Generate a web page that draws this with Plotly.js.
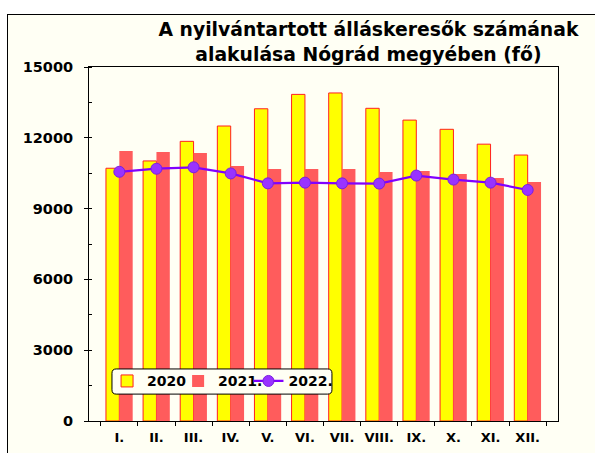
<!DOCTYPE html>
<html>
<head>
<meta charset="utf-8">
<script src="https://cdn.plot.ly/plotly-3.0.1.min.js"></script>
<style>
  html, body { margin: 0; padding: 0; background: #ffffff; overflow: hidden; width: 595px; height: 453px; }
  #frame { position: absolute; left: 7px; top: 14px; width: 590px; height: 441px; border-left: 1px solid #000; border-top: 1px solid #000; background: #fffff4; }
  #chart { width: 588px; height: 439px; }
</style>
</head>
<body>
<div id="frame"><div id="chart"></div></div>
<script>
const months = ["I.", "II.", "III.", "IV.", "V.", "VI.", "VII.", "VIII.", "IX.", "X.", "XI.", "XII."];
const values2020 = [10710, 11020, 11850, 12500, 13230, 13840, 13900, 13250, 12750, 12360, 11730, 11270];
const values2021 = [11440, 11400, 11360, 10810, 10680, 10680, 10680, 10550, 10590, 10470, 10300, 10130];
const values2022 = [10560, 10690, 10750, 10490, 10070, 10100, 10070, 10060, 10400, 10230, 10100, 9790];
const seriesNames = ["2020", "2021.", "2022."];
const yTicks = [0, 3000, 6000, 9000, 12000, 15000];
const yTickLabels = ["0", "3000", "6000", "9000", "12000", "15000"];

const FONT = "DejaVu Sans, Arial, sans-serif";
const legendFont = { family: FONT, size: 14, color: "#000", weight: "bold" };

const traces = [
  {
    type: "bar", x: months, y: values2020, name: seriesNames[0], legend: "legend",
    marker: { color: "#ffff00", line: { color: "#ff2020", width: 1 } }
  },
  {
    type: "bar", x: months, y: values2021, name: seriesNames[1], legend: "legend2",
    marker: { color: "#ff5c5c", line: { color: "#ff5c5c", width: 0 } }
  },
  {
    type: "scatter", mode: "lines+markers", x: months, y: values2022, name: seriesNames[2], legend: "legend3",
    line: { color: "#8000ff", width: 2.2 },
    marker: { color: "#9933ff", size: 11, line: { color: "#7a1fe0", width: 1 } }
  }
];

// rounded legend frame in paper coords
const lx0 = 0.049, lx1 = 0.518, ly0 = 0.076, ly1 = 0.147, rx = 0.009, ry = 0.012;
const legendPath =
  `M ${lx0 + rx},${ly1} L ${lx1 - rx},${ly1} Q ${lx1},${ly1} ${lx1},${ly1 - ry} ` +
  `L ${lx1},${ly0 + ry} Q ${lx1},${ly0} ${lx1 - rx},${ly0} L ${lx0 + rx},${ly0} ` +
  `Q ${lx0},${ly0} ${lx0},${ly0 + ry} L ${lx0},${ly1 - ry} Q ${lx0},${ly1} ${lx0 + rx},${ly1} Z`;

function leg(x) {
  return {
    orientation: "h", x: x, xanchor: "left", xref: "paper",
    y: 0.112, yanchor: "middle", yref: "paper",
    bgcolor: "rgba(0,0,0,0)", borderwidth: 0, font: legendFont
  };
}

const layout = {
  width: 588, height: 439,
  margin: { l: 81, r: 38, t: 52, b: 33 },
  paper_bgcolor: "#fffff4",
  plot_bgcolor: "#fffff4",
  font: { family: FONT, color: "#000", size: 14, weight: "bold" },
  title: {
    text: "A nyilvántartott álláskeresők számának<br>alakulása Nógrád megyében (fő)",
    font: { family: FONT, size: 18.8, color: "#000", weight: "bold" },
    x: 0.613, xref: "container", xanchor: "center",
    y: 0.952, yref: "container", yanchor: "top"
  },
  barmode: "group",
  bargap: 0.28,
  bargroupgap: 0,
  showlegend: true,
  legend: leg(0.0385),
  legend2: leg(0.19),
  legend3: leg(0.34),
  xaxis: {
    type: "category",
    showline: true, linecolor: "#000", linewidth: 1, mirror: true,
    ticks: "outside", ticklen: 4, tickcolor: "#000", tickson: "boundaries",
    showgrid: false, tickangle: 0,
    tickfont: { family: FONT, size: 13, color: "#000", weight: "bold" },
    ticklabelstandoff: 4
  },
  yaxis: {
    range: [0, 15000],
    tickmode: "array", tickvals: yTicks, ticktext: yTickLabels,
    showline: true, linecolor: "#000", linewidth: 1, mirror: true,
    ticks: "outside", ticklen: 4, tickcolor: "#000",
    showgrid: false, zeroline: false,
    tickfont: { family: FONT, size: 14.5, color: "#000", weight: "bold" },
    ticklabelstandoff: 8,
    minor: { tickmode: "linear", tick0: 0, dtick: 1500, ticks: "inside", ticklen: 3, tickcolor: "#000", showgrid: false }
  },
  shapes: [
    {
      type: "path", xref: "paper", yref: "paper", path: legendPath,
      fillcolor: "#fffff4", line: { color: "#000", width: 1 }, layer: "above"
    }
  ]
};

Plotly.newPlot("chart", traces, layout, { displayModeBar: false, staticPlot: true });
</script>
</body>
</html>
